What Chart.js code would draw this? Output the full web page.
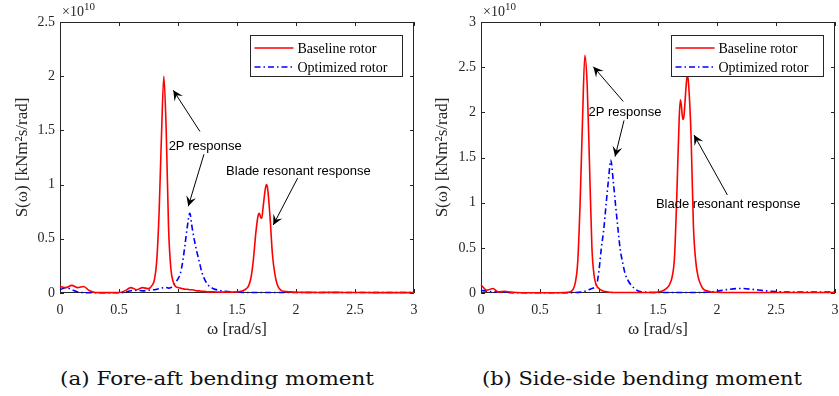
<!DOCTYPE html>
<html>
<head>
<meta charset="utf-8">
<script src="https://cdn.jsdelivr.net/npm/chart.js@4.4.1/dist/chart.umd.min.js"></script>
<style>
  body { margin: 0; background: #fff; width: 839px; height: 396px; position: relative; overflow: hidden; }
  .panel { position: absolute; top: 0; height: 340px; }
  .caption { position: absolute; top: 368px; font-family: "DejaVu Serif", serif; font-size: 18px; line-height: 22px;
    color: #111; white-space: nowrap; transform-origin: 0 0; }
</style>
</head>
<body>
<div class="panel" style="left:0;width:420px"><canvas id="foreAft" width="420" height="340"></canvas></div>
<div class="panel" style="left:420px;width:419px"><canvas id="sideSide" width="419" height="340"></canvas></div>
<div class="caption" id="capA" style="left:60px" data-w="314">(a) Fore-aft bending moment</div>
<div class="caption" id="capB" style="left:482px" data-w="320">(b) Side-side bending moment</div>
<script>
// frequency grid (rad/s)
const omega = [0, 0.05, 0.1, 0.15, 0.2, 0.25, 0.3, 0.4, 0.5, 0.55, 0.6, 0.65, 0.7, 0.75, 0.78, 0.8,
  0.82, 0.84, 0.86, 0.88, 0.9, 0.92, 0.94, 0.96, 0.98, 1.0, 1.02, 1.04, 1.06, 1.08, 1.1, 1.12,
  1.14, 1.16, 1.18, 1.2, 1.22, 1.25, 1.3, 1.35, 1.4, 1.45, 1.5, 1.55, 1.58, 1.6, 1.62, 1.64,
  1.66, 1.68, 1.69, 1.7, 1.71, 1.72, 1.74, 1.75, 1.76, 1.78, 1.8, 1.82, 1.84, 1.86, 1.88, 1.9,
  1.95, 2.0, 2.1, 2.2, 2.3, 2.4, 2.5, 2.6, 2.7, 2.8, 2.9, 3.0];

// spectra, in units of 1e10 kNm^2 s/rad
const faBaseline = [0.06, 0.05, 0.07, 0.05, 0.06, 0.02, 0.005, 0.003, 0.004, 0.02, 0.05, 0.03, 0.05, 0.04, 0.07, 0.12,
  0.3, 0.75, 1.45, 2.0, 1.5, 0.6, 0.22, 0.1, 0.06, 0.05, 0.045, 0.04, 0.035, 0.035, 0.03, 0.03,
  0.025, 0.02, 0.02, 0.015, 0.015, 0.01, 0.01, 0.008, 0.008, 0.008, 0.01, 0.02, 0.04, 0.07, 0.15, 0.32,
  0.56, 0.72, 0.735, 0.70, 0.69, 0.78, 0.96, 1.0, 0.96, 0.7, 0.36, 0.18, 0.08, 0.04, 0.02, 0.015,
  0.01, 0.007, 0.006, 0.005, 0.006, 0.005, 0.004, 0.004, 0.003, 0.003, 0.003, 0.003];
const faOptimized = [0.03, 0.05, 0.03, 0.01, 0.003, 0.002, 0.002, 0.002, 0.002, 0.006, 0.02, 0.025, 0.02, 0.025, 0.03, 0.03,
  0.035, 0.04, 0.045, 0.05, 0.05, 0.045, 0.05, 0.07, 0.1, 0.13, 0.18, 0.29, 0.45, 0.62, 0.735, 0.6,
  0.48, 0.38, 0.29, 0.2, 0.14, 0.08, 0.04, 0.025, 0.015, 0.01, 0.008, 0.006, 0.005, 0.005, 0.005, 0.005,
  0.005, 0.005, 0.005, 0.005, 0.005, 0.005, 0.005, 0.005, 0.005, 0.005, 0.005, 0.005, 0.005, 0.005, 0.005, 0.005,
  0.005, 0.004, 0.004, 0.004, 0.004, 0.004, 0.004, 0.004, 0.004, 0.004, 0.004, 0.004];
const ssBaseline = [0.09, 0.03, 0.05, 0.01, 0.02, 0.01, 0.005, 0.003, 0.003, 0.003, 0.003, 0.003, 0.004, 0.01, 0.04, 0.12,
  0.35, 1.0, 1.9, 2.63, 2.3, 1.4, 0.5, 0.18, 0.08, 0.05, 0.03, 0.02, 0.015, 0.01, 0.008, 0.005,
  0.005, 0.005, 0.005, 0.005, 0.005, 0.005, 0.005, 0.005, 0.005, 0.005, 0.01, 0.03, 0.06, 0.1, 0.18, 0.4,
  1.1, 1.95, 2.14, 2.05, 1.92, 1.96, 2.32, 2.42, 2.3, 1.75, 0.75, 0.35, 0.18, 0.1, 0.05, 0.03,
  0.012, 0.008, 0.005, 0.005, 0.005, 0.005, 0.005, 0.005, 0.005, 0.005, 0.005, 0.005];
const ssOptimized = [0.03, 0.02, 0.015, 0.01, 0.008, 0.003, 0.002, 0.002, 0.002, 0.002, 0.002, 0.002, 0.002, 0.002, 0.003, 0.005,
  0.007, 0.01, 0.015, 0.02, 0.03, 0.04, 0.05, 0.06, 0.09, 0.25, 0.5, 0.7, 0.98, 1.25, 1.47, 1.25,
  0.98, 0.72, 0.48, 0.34, 0.22, 0.13, 0.05, 0.015, 0.01, 0.006, 0.005, 0.005, 0.005, 0.005, 0.005, 0.005,
  0.005, 0.005, 0.005, 0.005, 0.005, 0.005, 0.005, 0.005, 0.005, 0.005, 0.005, 0.005, 0.005, 0.005, 0.005, 0.008,
  0.012, 0.02, 0.04, 0.05, 0.04, 0.025, 0.015, 0.01, 0.01, 0.01, 0.01, 0.01];

// tick labels
const omegaTicks = [0, 0.5, 1, 1.5, 2, 2.5, 3];
const faTicks = [0, 0.5, 1, 1.5, 2, 2.5];
const ssTicks = [0, 0.5, 1, 1.5, 2, 2.5, 3];
const seriesNames = ['Baseline rotor', 'Optimized rotor'];

// annotations in data units: text centre, arrows [fromX, fromY, toX, toY]
const faNotes = [
  { text: '2P response', x: 1.23, y: 1.35 },
  { text: 'Blade resonant response', x: 2.02, y: 1.12 }
];
const faArrows = [[1.186, 1.49, 0.96, 1.87], [1.22, 1.28, 1.087, 0.80], [2.014, 1.06, 1.807, 0.627]];
const ssNotes = [
  { text: '2P response', x: 1.22, y: 2.0 },
  { text: 'Blade resonant response', x: 2.095, y: 0.985 }
];
const ssArrows = [[1.206, 2.12, 0.952, 2.505], [1.212, 1.91, 1.136, 1.51], [2.088, 1.085, 1.805, 1.75]];

const axisColor = '#262626';
const serif = '"Liberation Serif", "Times New Roman", serif';

function arrowHead(ctx, x0, y0, x1, y1) {
  const ang = Math.atan2(y1 - y0, x1 - x0);
  const L = 10, W = 5;
  ctx.save();
  ctx.translate(x1, y1);
  ctx.rotate(ang);
  ctx.beginPath();
  ctx.moveTo(0, 0);
  ctx.lineTo(-L, -W);
  ctx.lineTo(-L * 0.6, 0);
  ctx.lineTo(-L, W);
  ctx.closePath();
  ctx.fill();
  ctx.restore();
}

const framePlugin = {
  id: 'frame',
  beforeDatasetsDraw(chart) {
    const { ctx, chartArea: a, scales: { x, y } } = chart;
    ctx.save();
    ctx.strokeStyle = axisColor;
    ctx.lineWidth = 1;
    ctx.strokeRect(a.left + 0.5, a.top + 0.5, a.width - 1, a.height - 1);
    ctx.beginPath();
    x.ticks.forEach(t => {
      const px = Math.round(x.getPixelForValue(t.value)) + 0.5;
      ctx.moveTo(px, a.bottom); ctx.lineTo(px, a.bottom - 4);
      ctx.moveTo(px, a.top); ctx.lineTo(px, a.top + 4);
    });
    y.ticks.forEach(t => {
      const py = Math.round(y.getPixelForValue(t.value)) + 0.5;
      ctx.moveTo(a.left, py); ctx.lineTo(a.left + 4, py);
      ctx.moveTo(a.right, py); ctx.lineTo(a.right - 4, py);
    });
    ctx.stroke();
    // exponent label
    ctx.fillStyle = axisColor;
    ctx.textBaseline = 'alphabetic';
    ctx.textAlign = 'left';
    ctx.font = '14px ' + serif;
    ctx.fillText('\u00d710', a.left + 2, a.top - 6);
    const w = ctx.measureText('\u00d710').width;
    ctx.font = '11px ' + serif;
    ctx.fillText('10', a.left + 2 + w, a.top - 12);
    ctx.restore();
  },
  afterDatasetsDraw(chart, args, opts) {
    const { ctx, chartArea: a, scales: { x, y } } = chart;
    ctx.save();
    // annotations
    ctx.fillStyle = '#000';
    ctx.strokeStyle = '#000';
    ctx.lineWidth = 1;
    ctx.font = '13px "Liberation Sans", Arial, sans-serif';
    ctx.textAlign = 'center';
    ctx.textBaseline = 'middle';
    opts.notes.forEach(n => ctx.fillText(n.text, x.getPixelForValue(n.x), y.getPixelForValue(n.y)));
    opts.arrows.forEach(([fx, fy, tx, ty]) => {
      const x0 = x.getPixelForValue(fx), y0 = y.getPixelForValue(fy);
      const x1 = x.getPixelForValue(tx), y1 = y.getPixelForValue(ty);
      ctx.beginPath();
      ctx.moveTo(x0, y0);
      ctx.lineTo(x1, y1);
      ctx.stroke();
      arrowHead(ctx, x0, y0, x1, y1);
    });
    // legend box
    const bw = 152, bh = 41;
    const bx = Math.round(a.right - 12 - bw) + 0.5, by = Math.round(a.top + 13) + 0.5;
    ctx.fillStyle = '#fff';
    ctx.fillRect(bx, by, bw, bh);
    ctx.strokeStyle = axisColor;
    ctx.strokeRect(bx, by, bw, bh);
    ctx.font = '14px ' + serif;
    ctx.textAlign = 'left';
    chart.data.datasets.forEach((ds, i) => {
      const ry = by + 12.5 + i * 19;
      ctx.strokeStyle = ds.borderColor;
      ctx.lineWidth = ds.borderWidth;
      ctx.setLineDash(ds.borderDash || []);
      ctx.beginPath();
      ctx.moveTo(bx + 4, ry);
      ctx.lineTo(bx + 43, ry);
      ctx.stroke();
      ctx.setLineDash([]);
      ctx.fillStyle = '#000';
      ctx.fillText(ds.label, bx + 47, ry + 1);
    });
    ctx.restore();
  }
};

function makeChart(id, base, opt, yTicks, notes, arrows, yWidth, padRight) {
  const pts = arr => omega.map((w, i) => ({ x: w, y: arr[i] }));
  return new Chart(document.getElementById(id), {
    type: 'line',
    data: {
      datasets: [
        { label: seriesNames[0], data: pts(base), borderColor: '#ff0000', borderWidth: 1.6,
          pointRadius: 0, cubicInterpolationMode: 'monotone', clip: false },
        { label: seriesNames[1], data: pts(opt), borderColor: '#0000ff', borderWidth: 1.6,
          borderDash: [6, 3, 1.5, 3], pointRadius: 0, cubicInterpolationMode: 'monotone', clip: false }
      ]
    },
    options: {
      responsive: false,
      animation: false,
      events: [],
      layout: { padding: { left: 0, right: padRight, top: 22, bottom: 0 } },
      plugins: {
        legend: { display: false },
        tooltip: { enabled: false },
        frame: { notes: notes, arrows: arrows }
      },
      scales: {
        x: {
          type: 'linear', min: 0, max: 3,
          afterBuildTicks: s => { s.ticks = omegaTicks.map(v => ({ value: v })); },
          afterFit: s => { s.height = 47; s.paddingLeft = 0; s.paddingRight = 0; },
          grid: { display: false, drawTicks: false },
          border: { display: false },
          ticks: { padding: 9, color: axisColor, font: { family: serif, size: 14 }, callback: v => String(v) },
          title: { display: true, text: '\u03c9 [rad/s]', color: axisColor,
            font: { family: serif, size: 17 }, padding: { top: 0, bottom: 0 } }
        },
        y: {
          type: 'linear', min: yTicks[0], max: yTicks[yTicks.length - 1],
          afterBuildTicks: s => { s.ticks = yTicks.map(v => ({ value: v })); },
          afterFit: s => { s.width = yWidth; s.paddingTop = 0; s.paddingBottom = 0; },
          grid: { display: false, drawTicks: false },
          border: { display: false },
          ticks: { padding: 5, color: axisColor, font: { family: serif, size: 14 }, callback: v => String(v) },
          title: { display: true, text: 'S(\u03c9) [kNm\u00b2s/rad]', color: axisColor,
            font: { family: serif, size: 17 }, padding: { top: 12, bottom: 0 } }
        }
      }
    },
    plugins: [framePlugin]
  });
}

makeChart('foreAft', faBaseline, faOptimized, faTicks, faNotes, faArrows, 60, 6);
makeChart('sideSide', ssBaseline, ssOptimized, ssTicks, ssNotes, ssArrows, 61, 4);

// stretch captions to the width they take in the figure
document.querySelectorAll('.caption').forEach(el => {
  const w = el.getBoundingClientRect().width;
  el.style.transform = 'scaleX(' + (Number(el.dataset.w) / w) + ')';
});
</script>
</body>
</html>
